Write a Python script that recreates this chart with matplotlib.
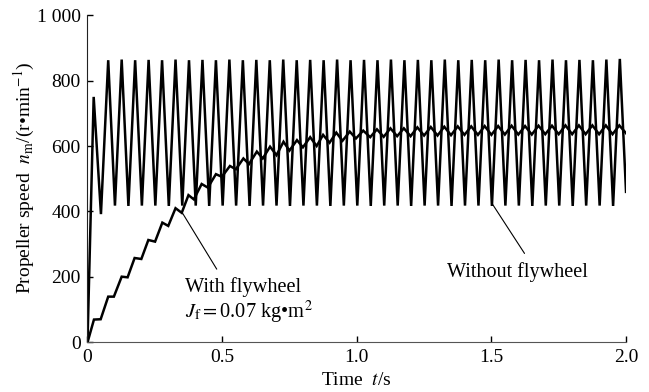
import matplotlib
matplotlib.use("Agg")
import matplotlib.pyplot as plt

plt.rcParams.update({
    "font.family": "Liberation Serif",
    "mathtext.fontset": "stix",
    "font.size": 14,
})

# Without flywheel: turning points (time s, speed r/min)
t_nofly = [0.000, 0.023, 0.050, 0.077, 0.102, 0.127, 0.152, 0.177, 0.202, 0.227,
           0.252, 0.277, 0.302, 0.327, 0.352, 0.377, 0.402, 0.427, 0.452, 0.477,
           0.502, 0.527, 0.552, 0.577, 0.602, 0.627, 0.652, 0.677, 0.702, 0.727,
           0.752, 0.777, 0.802, 0.827, 0.852, 0.877, 0.902, 0.927, 0.952, 0.977,
           1.002, 1.027, 1.052, 1.077, 1.102, 1.127, 1.152, 1.177, 1.202, 1.227,
           1.252, 1.277, 1.302, 1.327, 1.352, 1.377, 1.402, 1.427, 1.452, 1.477,
           1.502, 1.527, 1.552, 1.577, 1.602, 1.627, 1.652, 1.677, 1.702, 1.727,
           1.752, 1.777, 1.802, 1.827, 1.852, 1.877, 1.902, 1.927, 1.952, 1.977,
           2.000]
n_nofly = [0, 750, 392, 862, 418, 864, 417, 862, 418, 863,
           418, 862, 417, 864, 418, 862, 418, 863, 417, 862,
           418, 864, 418, 862, 417, 863, 418, 862, 418, 864,
           417, 862, 418, 863, 418, 862, 417, 864, 418, 862,
           418, 863, 417, 862, 418, 864, 418, 862, 417, 863,
           418, 862, 418, 864, 417, 862, 418, 863, 418, 862,
           417, 864, 418, 862, 418, 863, 417, 862, 418, 864,
           418, 862, 417, 863, 418, 862, 418, 864, 417, 866,
           460]

# With flywheel (J_f = 0.07 kg m^2)
t_fly = [0.000, 0.024, 0.049, 0.077, 0.098, 0.127, 0.149, 0.175, 0.200, 0.226,
         0.251, 0.278, 0.300, 0.327, 0.350, 0.375, 0.395, 0.424, 0.447, 0.477,
         0.499, 0.529, 0.551, 0.579, 0.600, 0.629, 0.651, 0.678, 0.702, 0.728,
         0.750, 0.778, 0.800, 0.827, 0.851, 0.875, 0.899, 0.924, 0.947, 0.974,
         0.997, 1.024, 1.050, 1.075, 1.100, 1.125, 1.150, 1.175, 1.200, 1.225,
         1.250, 1.275, 1.300, 1.325, 1.350, 1.375, 1.400, 1.425, 1.450, 1.475,
         1.500, 1.525, 1.550, 1.575, 1.600, 1.625, 1.650, 1.675, 1.700, 1.725,
         1.750, 1.775, 1.800, 1.825, 1.850, 1.875, 1.900, 1.925, 1.950, 1.975,
         2.000]
n_fly = [0, 70, 71, 140, 140, 201, 199, 258, 255, 313,
         308, 366, 356, 410, 396, 450, 437, 484, 473, 514,
         506, 539, 529, 562, 545, 583, 562, 598, 572, 613,
         586, 618, 596, 627, 600, 634, 610, 641, 616, 644,
         623, 647, 627, 651, 628, 654, 630, 654, 630, 657,
         632, 658, 632, 659, 633, 660, 634, 660, 634, 661,
         634, 661, 635, 662, 635, 661, 635, 662, 636, 662,
         636, 663, 636, 663, 636, 663, 636, 663, 636, 663,
         639]

x_ticks = [0, 0.5, 1.0, 1.5, 2.0]
x_labels = ["0", "0.5", "1.0", "1.5", "2.0"]
y_ticks = [0, 200, 400, 600, 800, 1000]
y_labels = ["0", "200", "400", "600", "800", "1 000"]

fig = plt.figure(figsize=(6.49, 3.92), dpi=100)
ax = fig.add_axes([0.1348, 0.1263, 0.8298, 0.8354])

ax.plot(t_nofly, n_nofly, color="black", lw=1.8, solid_joinstyle="miter")
ax.plot(t_fly, n_fly, color="black", lw=1.8, solid_joinstyle="miter")

ax.set_xlim(0, 2.0)
ax.set_ylim(0, 1000)
ax.set_xticks(x_ticks)
ax.set_xticklabels(x_labels)
ax.set_yticks(y_ticks)
ax.set_yticklabels(y_labels)
ax.tick_params(direction="in", length=4, width=1, pad=5)
for s in ["top", "right"]:
    ax.spines[s].set_visible(False)
ax.spines["left"].set_color("#222222")
ax.spines["bottom"].set_color("#555555")

ax.set_xlabel("Time  $\\mathit{t}$/s", labelpad=4)
fig.text(24 / 649, 1 - 178 / 392,
         "Propeller speed  $\\mathit{n}_\\mathrm{m}$/(r\u2022min$^{-1}$)",
         rotation=90, ha="center", va="center")

# leader lines
line_kw = dict(arrowstyle="-", lw=0.8, color="black", shrinkA=0, shrinkB=0)
ax.annotate("", xy=(0.35, 399), xytext=(0.480, 224), arrowprops=line_kw)
ax.annotate("", xy=(1.502, 425), xytext=(1.623, 272), arrowprops=line_kw)

# labels
ax.text(0.3625, 154, "With flywheel", ha="left", va="baseline", fontsize=14.7)
ax.text(0.3625, 74, "$\\mathit{J}_\\mathrm{f}$$=$0.07 kg\u2022m$^2$",
        ha="left", va="baseline", fontsize=14.7)
ax.text(1.336, 201, "Without flywheel", ha="left", va="baseline", fontsize=14.5)

fig.savefig("out.png", dpi=100)
